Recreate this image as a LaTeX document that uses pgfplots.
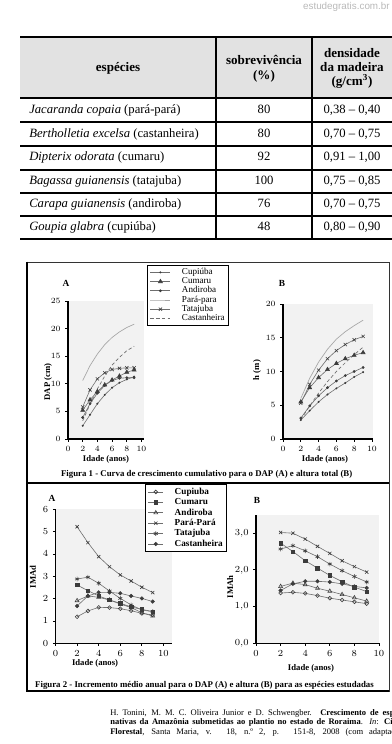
\documentclass[border=0pt]{standalone}
\usepackage{pgfplots}
\pgfplotsset{compat=1.18}
\usepackage{fontspec}
\setmainfont{Liberation Serif}
\newfontfamily\wmfont{Liberation Sans}
\definecolor{ln}{HTML}{6E6E6E}
\definecolor{mk}{HTML}{3C3C3C}
\definecolor{bgc}{HTML}{F2F2F2}
\definecolor{hdr}{HTML}{E2E2E2}
\pgfplotsset{
  base/.style={axis lines*=left, axis line style={line width=1.1pt, black},
    tick align=outside, major tick length=2pt, tick style={black, line width=0.7pt},
    enlargelimits=false, anchor=south west, clip=false,
    axis background/.style={fill=bgc},
    xtick={0,2,4,6,8,10}, legend cell align=left,
    every axis label/.append style={font=\fontsize{6.5}{7}\bfseries\selectfont}},
  fig1/.style={base, tick label style={font=\fontsize{6}{6.5}\bfseries\selectfont},
    legend image code/.code={\draw[mark repeat=2,mark phase=2,##1] plot coordinates {(0pt,0pt) (7.5pt,0pt) (15pt,0pt)};},
    legend style={draw=black, line width=0.6pt, fill=white, inner sep=2pt,
      font=\fontsize{6.8}{7}\selectfont,
      nodes={inner sep=0.4pt, text height=4.5pt, text depth=1.2pt},
      row sep=0.4pt, /tikz/every odd column/.append style={column sep=8pt},
      /tikz/every even column/.append style={column sep=3pt}}},
  fig2/.style={base, tick label style={font=\fontsize{6.8}{7}\bfseries\selectfont},
    legend image code/.code={\draw[mark repeat=2,mark phase=2,##1] plot coordinates {(0pt,0pt) (5.5pt,0pt) (11pt,0pt)};},
    legend style={draw=black, line width=0.6pt, fill=white, inner sep=2pt,
      font=\fontsize{6.9}{7}\bfseries\selectfont,
      nodes={inner sep=0.5pt, text height=5pt, text depth=1.4pt},
      row sep=0.4pt, /tikz/every odd column/.append style={column sep=8pt},
      /tikz/every even column/.append style={column sep=2pt}}},
  cup1/.style={ln, line width=0.45pt, mark=*, mark size=0.5pt, mark options={mk}},
  cum1/.style={ln, line width=0.45pt, mark=triangle*, mark size=1.7pt, mark options={fill=mk, draw=mk}},
  and1/.style={ln, line width=0.45pt, mark=*, mark size=0.8pt, mark options={fill=mk, draw=mk}},
  par1/.style={gray!70, line width=0.5pt, no markers},
  tat1/.style={ln, line width=0.45pt, mark=x, mark size=1.7pt, mark options={mk, line width=0.45pt}},
  cas1/.style={ln, line width=0.5pt, dash pattern=on 2.5pt off 1.8pt, no markers},
  cup2/.style={ln, line width=0.45pt, mark=o, mark size=1.4pt, mark options={fill=white, draw=mk, solid}},
  cum2/.style={ln, line width=0.45pt, mark=square*, mark size=1.3pt, mark options={fill=mk, draw=mk}},
  and2/.style={ln, line width=0.45pt, mark=triangle, mark size=1.7pt, mark options={fill=white, draw=mk}},
  par2/.style={ln, line width=0.45pt, mark=x, mark size=1.7pt, mark options={mk}},
  tat2/.style={ln, line width=0.45pt, mark=asterisk, mark size=1.7pt, mark options={mk}},
  cas2/.style={ln, line width=0.45pt, mark=*, mark size=1.3pt, mark options={fill=mk, draw=mk}},
}
\begin{document}
\begin{tikzpicture}
\useasboundingbox (0pt,0pt) rectangle (294pt,-558pt);
\begin{scope}[x=0.75pt,y=-0.75pt]
% watermark
\node[anchor=east, font=\wmfont\fontsize{7.4}{8}\selectfont, text=gray!55, inner sep=0] at (390,7) {estudegratis.com.br};
% table
\fill[hdr] (20,37) rectangle (400,98);
\foreach \yy in {37,98,122,146,169.5,193,216,238.5} {\draw[line width=1.5pt] (20,\yy) -- (400,\yy);}
\draw[line width=1.5pt] (216,37) -- (216,238.5);
\draw[line width=1.5pt] (312,37) -- (312,238.5);
\begin{scope}[every node/.style={font=\fontsize{9.8}{11.5}\bfseries\selectfont, inner sep=0}]
\node at (118,68) {espécies};
\node[align=center] at (264,68.5) {sobrevivência\\(\%)};
\node[align=center, font=\fontsize{9.8}{10.3}\bfseries\selectfont] at (352,68.5) {densidade\\da madeira\\(g/cm\textsuperscript{3})};
\end{scope}
\begin{scope}[every node/.style={font=\fontsize{9.5}{11}\selectfont, inner sep=0, text height=6.6pt, text depth=1.9pt}]
\node[anchor=west] at (29,110) {\textit{Jacaranda copaia} (pará-pará)};
\node[anchor=west] at (29,134) {\textit{Bertholletia excelsa} (castanheira)};
\node[anchor=west] at (29,157.8) {\textit{Dipterix odorata} (cumaru)};
\node[anchor=west] at (29,181.2) {\textit{Bagassa guianensis} (tatajuba)};
\node[anchor=west] at (29,204.6) {\textit{Carapa guianensis} (andiroba)};
\node[anchor=west] at (29,227.6) {\textit{Goupia glabra} (cupiúba)};
\node at (264,110) {80};
\node at (264,134) {80};
\node at (264,157.8) {92};
\node at (264,181.2) {100};
\node at (264,204.6) {76};
\node at (264,227.6) {48};
\node at (352,110) {0,38 -- 0,40};
\node at (352,134) {0,70 -- 0,75};
\node at (352,157.8) {0,91 -- 1,00};
\node at (352,181.2) {0,75 -- 0,85};
\node at (352,204.6) {0,70 -- 0,75};
\node at (352,227.6) {0,80 -- 0,90};
\end{scope}
% figure frames
\draw[line width=0.6pt, black!80] (27,262) -- (389,262) -- (389,691) -- (27,691);
\draw[line width=1.0pt] (27,483) -- (389,483);
\draw[line width=2pt] (27,261.5) -- (27,691.5);
\draw[line width=1pt] (27,691) -- (389,691);
% panel letters
\node[font=\fontsize{7}{8}\bfseries\selectfont] at (66,283) {A};
\node[font=\fontsize{7}{8}\bfseries\selectfont] at (282,283) {B};
\node[font=\fontsize{7}{8}\bfseries\selectfont] at (52,498) {A};
\node[font=\fontsize{7}{8}\bfseries\selectfont] at (257,500) {B};
% captions
\node[font=\fontsize{6.6}{7}\bfseries\selectfont, inner sep=0] at (206.7,474) {Figura 1 - Curva de crescimento cumulativo para o DAP (A) e altura total (B)};
\node[font=\fontsize{6.6}{7}\bfseries\selectfont, inner sep=0] at (204.5,685) {Figura 2 - Incremento médio anual para o DAP (A) e altura (B) para as espécies estudadas};
% citation
\begin{scope}[every node/.style={anchor=base west, inner sep=0, font=\fontsize{6.4}{7.3}\selectfont}]
\node at (110,715) {\makebox[226pt][s]{H. Tonini, M. M. C. Oliveira Junior e D. Schwengber. \textbf{Crescimento de espécies}}};
\node at (110,724.7) {\makebox[226pt][s]{\textbf{nativas da Amazônia submetidas ao plantio no estado de Roraima}. \textit{In}: \textbf{Ciência}}};
\node at (110,734.4) {\makebox[226pt][s]{\textbf{Florestal}, Santa Maria, v. 18, n.º 2, p. 151-8, 2008 (com adaptações).}};
\end{scope}
\end{scope}

% ---------- Figure 1 A : DAP ----------
\begin{axis}[fig1, at={(51pt,-329.25pt)}, x=5.5125pt, y=4.14pt,
  xmin=0, xmax=10.4, ymin=0, ymax=25, ytick={0,5,10,15,20,25},
  xlabel={Idade (anos)}, ylabel={DAP (cm)},
  xlabel style={at={(axis description cs:0.497,-0.145)}, anchor=center},
  ylabel style={at={(axis description cs:-0.262,0.413)}, anchor=center},
  legend style={at={(axis description cs:1.034,1.261)}, anchor=north west}]
\addplot[cup1] coordinates {(2,2.4) (3,4.4) (4,6.4) (5,8.0) (6,9.3) (7,10.2) (8,10.8) (9,11.3)};
\addplot[cum1] coordinates {(2,5.2) (3,7.1) (4,8.6) (5,9.8) (6,10.7) (7,11.4) (8,12.1) (9,12.5)};
\addplot[and1] coordinates {(2,3.9) (3,6.4) (4,8.3) (5,9.7) (6,10.6) (7,11.0) (8,11.1) (9,11.1)};
\addplot[par1] coordinates {(2,10.6) (3,13.3) (4,15.4) (5,17.1) (6,18.4) (7,19.4) (8,20.2) (9,20.8)};
\addplot[tat1] coordinates {(2,5.8) (3,8.9) (4,10.9) (5,12.0) (6,12.6) (7,12.8) (8,12.9) (9,12.9)};
\addplot[cas1] coordinates {(2,3.3) (3,6.3) (4,9.1) (5,11.4) (6,13.4) (7,14.8) (8,16.0) (9,16.8)};
\legend{Cupiúba, Cumaru, Andiroba, Pará-para, Tatajuba, Castanheira}
\end{axis}

% ---------- Figure 1 B : h ----------
\begin{axis}[fig1, at={(212.25pt,-329.25pt)}, x=6.675pt, y=5.0625pt,
  xmin=0, xmax=10.1, ymin=0, ymax=20, ytick={0,5,10,15,20},
  xlabel={Idade (anos)}, ylabel={h (m)},
  xlabel style={at={(axis description cs:0.467,-0.148)}, anchor=center},
  ylabel style={at={(axis description cs:-0.289,0.511)}, anchor=center}]
\addplot[cup1] coordinates {(2,2.8) (3,4.2) (4,5.5) (5,6.6) (6,7.5) (7,8.3) (8,9.2) (9,9.9)};
\addplot[cum1] coordinates {(2,5.5) (3,7.6) (4,9.1) (5,10.3) (6,11.2) (7,11.9) (8,12.4) (9,12.8)};
\addplot[and1] coordinates {(2,3.1) (3,4.9) (4,6.4) (5,7.6) (6,8.6) (7,9.4) (8,10.0) (9,10.6)};
\addplot[par1] coordinates {(2,6.0) (3,9.0) (4,11.4) (5,13.3) (6,14.8) (7,15.9) (8,16.8) (9,17.6)};
\addplot[tat1] coordinates {(2,5.3) (3,8.1) (4,10.2) (5,11.9) (6,13.1) (7,14.0) (8,14.7) (9,15.2)};
\addplot[cas1] coordinates {(2,2.9) (3,4.9) (4,6.8) (5,8.5) (6,10.0) (7,11.3) (8,12.5) (9,13.6)};
\end{axis}

% ---------- Figure 2 A : IMAd ----------
\begin{axis}[fig2, at={(41.625pt,-482.475pt)}, x=8.1pt, y=16.75pt,
  xmin=0, xmax=10.8, ymin=0, ymax=6, ytick={0,1,2,3,4,5,6},
  xlabel={Idade (anos)}, ylabel={IMAd},
  xlabel style={at={(axis description cs:0.339,-0.147)}, anchor=center},
  ylabel style={at={(axis description cs:-0.193,0.495)}, anchor=center},
  legend style={at={(axis description cs:0.768,1.189)}, anchor=north west}]
\addplot[cup2] coordinates {(2,1.19) (3,1.45) (4,1.61) (5,1.60) (6,1.55) (7,1.46) (8,1.34) (9,1.27)};
\addplot[cum2] coordinates {(2,2.61) (3,2.36) (4,2.12) (5,1.94) (6,1.79) (7,1.63) (8,1.52) (9,1.42)};
\addplot[and2] coordinates {(2,1.91) (3,2.12) (4,2.06) (5,1.94) (6,1.76) (7,1.60) (8,1.37) (9,1.22)};
\addplot[par2] coordinates {(2,5.22) (3,4.51) (4,3.88) (5,3.43) (6,3.06) (7,2.79) (8,2.51) (9,2.27)};
\addplot[tat2] coordinates {(2,2.88) (3,2.96) (4,2.69) (5,2.34) (6,2.01) (7,1.72) (8,1.49) (9,1.42)};
\addplot[cas2] coordinates {(2,1.67) (3,2.12) (4,2.28) (5,2.28) (6,2.24) (7,2.12) (8,2.01) (9,1.87)};
\legend{Cupiuba, Cumaru, Andiroba, Pará-Pará, Tatajuba, Castanheira}
\end{axis}

% ---------- Figure 2 B : IMAh ----------
\begin{axis}[fig2, at={(192pt,-482.475pt)}, x=9.225pt, y=27.525pt,
  xmin=0, xmax=10, ymin=0, ymax=3.5, ytick={0,1,2,3},
  yticklabel style={/pgf/number format/.cd, use comma, fixed, fixed zerofill, precision=1},
  xlabel={Idade (anos)}, ylabel={IMAh},
  xlabel style={at={(axis description cs:0.447,-0.192)}, anchor=center},
  ylabel style={at={(axis description cs:-0.211,0.438)}, anchor=center}]
\addplot[cup2] coordinates {(2,1.37) (3,1.39) (4,1.36) (5,1.30) (6,1.23) (7,1.18) (8,1.13) (9,1.08)};
\addplot[cum2] coordinates {(2,2.73) (3,2.50) (4,2.25) (5,2.05) (6,1.85) (7,1.68) (8,1.53) (9,1.41)};
\addplot[and2] coordinates {(2,1.55) (3,1.64) (4,1.60) (5,1.50) (6,1.42) (7,1.33) (8,1.24) (9,1.15)};
\addplot[par2] coordinates {(2,3.02) (3,3.00) (4,2.84) (5,2.64) (6,2.45) (7,2.25) (8,2.09) (9,1.94)};
\addplot[tat2] coordinates {(2,2.57) (3,2.66) (4,2.52) (5,2.36) (6,2.16) (7,1.98) (8,1.82) (9,1.67)};
\addplot[cas2] coordinates {(2,1.44) (3,1.62) (4,1.69) (5,1.69) (6,1.67) (7,1.62) (8,1.55) (9,1.51)};
\end{axis}
\end{tikzpicture}
\end{document}
